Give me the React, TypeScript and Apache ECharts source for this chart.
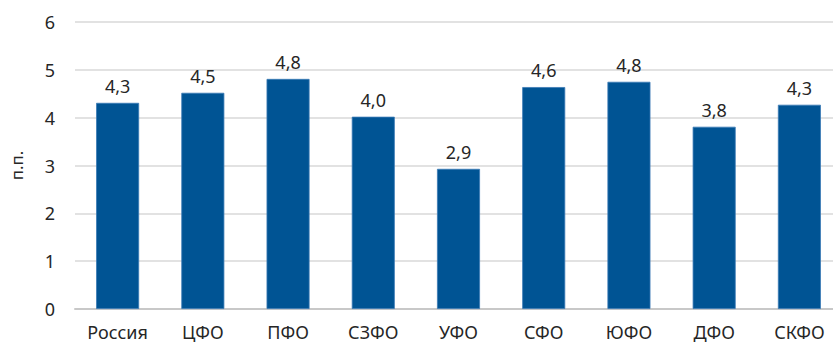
import React, { useEffect, useRef } from "react";
import * as echarts from "echarts";

const categories = ["Россия", "ЦФО", "ПФО", "СЗФО", "УФО", "СФО", "ЮФО", "ДФО", "СКФО"];
const values = [4.31, 4.52, 4.81, 4.02, 2.93, 4.64, 4.75, 3.81, 4.27];
const labels = ["4,3", "4,5", "4,8", "4,0", "2,9", "4,6", "4,8", "3,8", "4,3"];
const yTicks = [0, 1, 2, 3, 4, 5, 6];

export default function App() {
  const ref = useRef<HTMLDivElement>(null);
  useEffect(() => {
    if (!ref.current) return;
    const chart = echarts.init(ref.current, undefined, { renderer: "svg" });
    const font = "'Noto Sans', sans-serif";
    chart.setOption({
      animation: false,
      grid: { left: 75, top: 22, bottom: 34, width: 767, outerBoundsMode: "none", containLabel: false },
      xAxis: {
        type: "category",
        data: categories,
        axisLine: { lineStyle: { color: "#c8c8c8", width: 2 } },
        axisTick: { show: false },
        axisLabel: { color: "#262626", fontSize: 18, fontFamily: font, margin: 14 },
      },
      yAxis: {
        type: "value",
        min: yTicks[0],
        max: yTicks[yTicks.length - 1],
        interval: 1,
        name: "п.п.",
        nameLocation: "middle",
        nameGap: 50,
        nameTextStyle: { color: "#262626", fontSize: 17, fontFamily: font },
        axisLine: { show: false },
        axisTick: { show: false },
        axisLabel: { color: "#262626", fontSize: 18, fontFamily: font, margin: 20 },
        splitLine: { lineStyle: { color: "#d9d9d9", width: 1.5 } },
      },
      series: [
        {
          type: "bar",
          data: values,
          barWidth: 43,
          itemStyle: { color: "#005494", borderColor: "#3a7ab5", borderWidth: 0.8 },
          label: {
            show: true,
            position: "top",
            distance: 8,
            color: "#262626",
            fontSize: 18,
            fontFamily: font,
            formatter: (p: any) => labels[p.dataIndex],
          },
        },
      ],
    });
    return () => chart.dispose();
  }, []);
  return <div ref={ref} style={{ width: 833, height: 343, position: "absolute", left: 0, top: 0 }} />;
}
